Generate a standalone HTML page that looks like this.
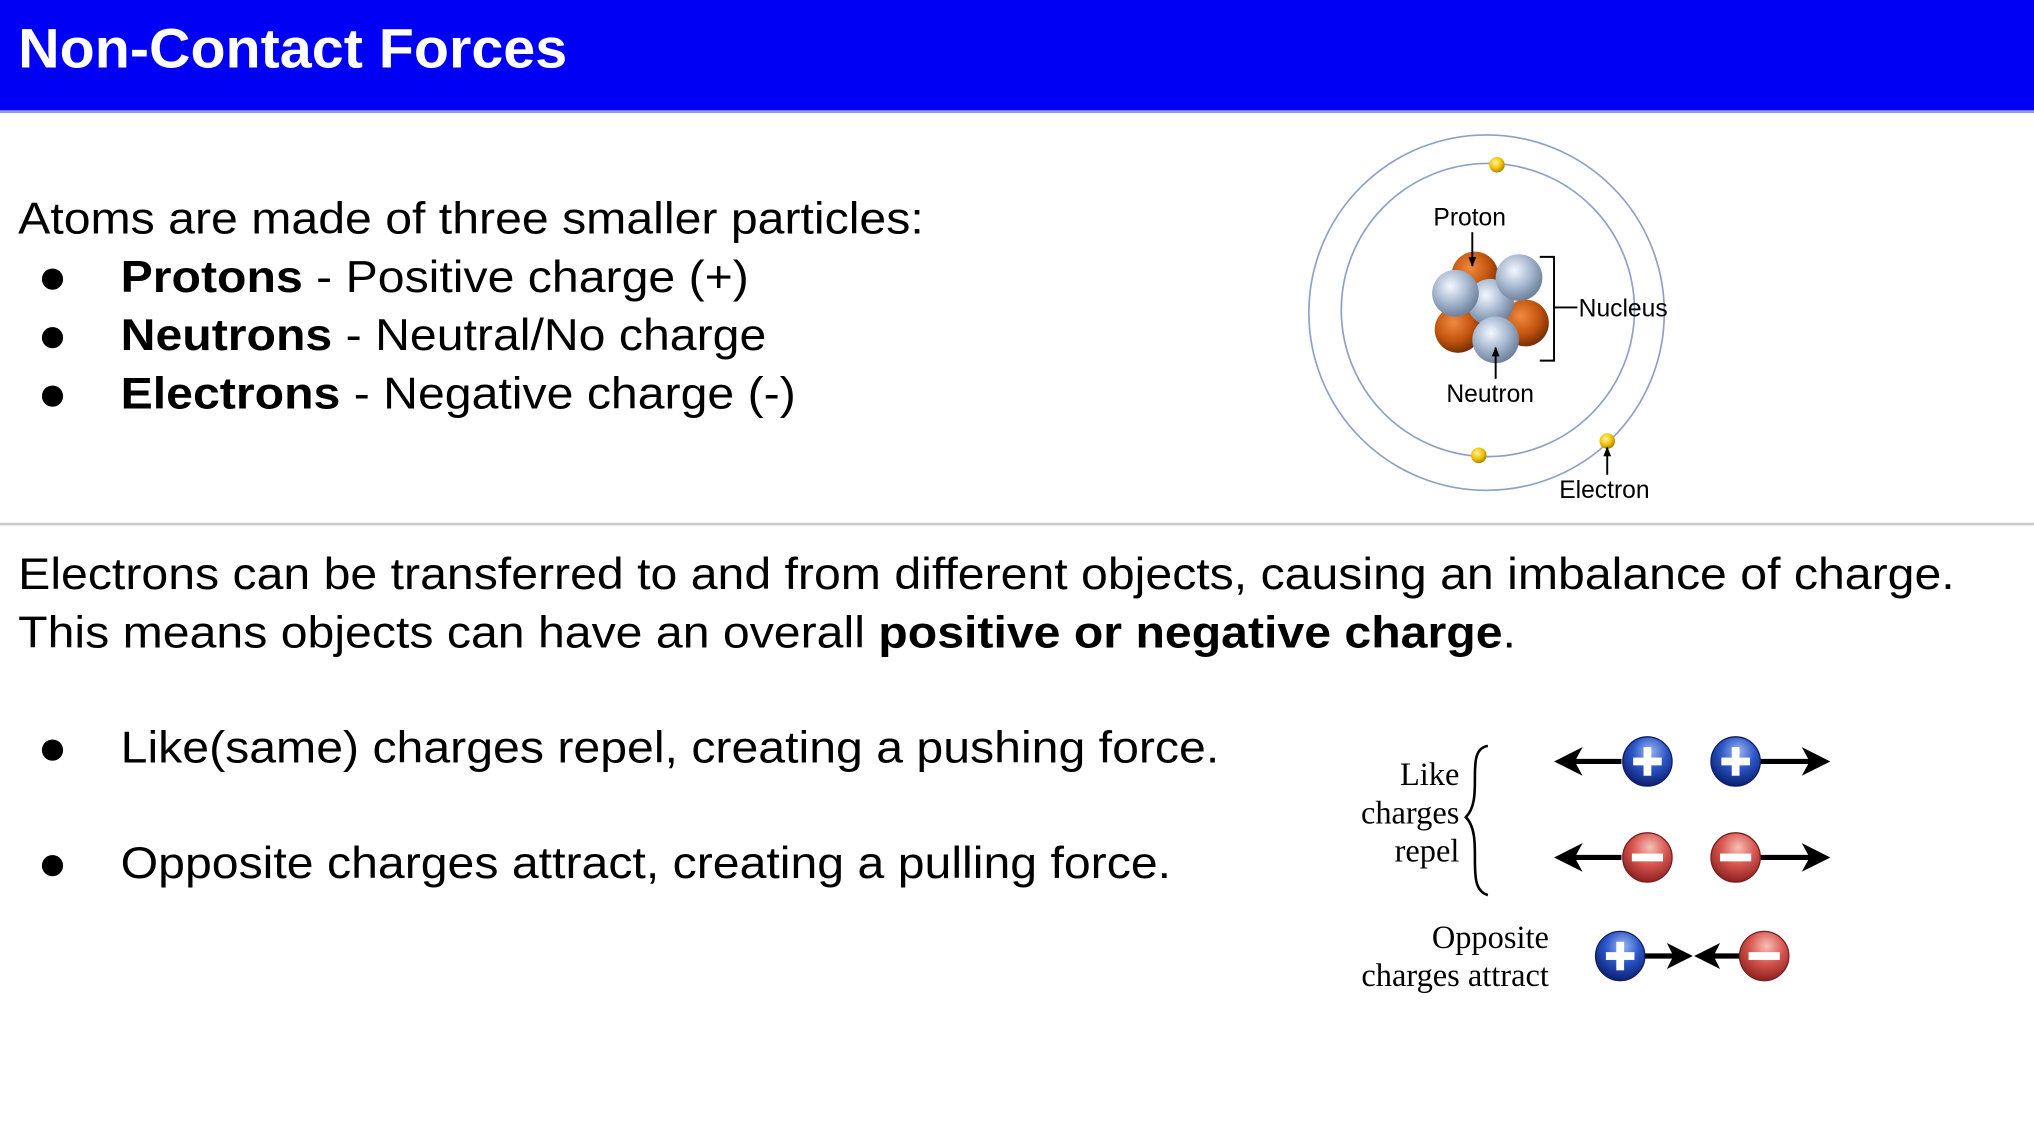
<!DOCTYPE html>
<html><head><meta charset="utf-8"><style>
html,body{margin:0;padding:0;background:#fff;width:2034px;height:1142px;overflow:hidden}
#c{position:absolute;left:0;top:0;width:1568px;height:881px;transform:scale(1.29719);transform-origin:0 0;font-family:"Liberation Sans",Arial,sans-serif;color:#000}
.hd{position:absolute;left:0;top:0;width:1568px;height:85px;background:#0000f5;border-bottom:2px solid #9aa0e8}
.hd span{position:absolute;left:14px;top:14px;font-size:43px;font-weight:bold;color:#fff;transform:scaleX(1.03);transform-origin:0 0}
.t{position:absolute;font-size:34px;white-space:nowrap;line-height:1;transform:scaleX(1.093);transform-origin:0 0}
.b{position:absolute;font-size:38px;left:29px;line-height:1}
</style></head><body><div id="c">
<div class="hd"><span>Non-Contact Forces</span></div>
<div class="t" style="left:14px;top:152px">Atoms are made of three smaller particles:</div>
<div class="b" style="top:195px">●</div><div class="t" style="left:93px;top:197px"><b>Protons</b> - Positive charge (+)</div>
<div class="b" style="top:240px">●</div><div class="t" style="left:93px;top:242px"><b>Neutrons</b> - Neutral/No charge</div>
<div class="b" style="top:285px">●</div><div class="t" style="left:93px;top:287px"><b>Electrons</b> - Negative charge (-)</div>
<div style="position:absolute;left:0;top:403px;width:1568px;height:2px;background:#c8c8c8"></div>
<div class="t" style="left:14px;top:426px">Electrons can be transferred to and from different objects, causing an imbalance of charge.</div>
<div class="t" style="left:14px;top:471px">This means objects can have an overall <b>positive or negative charge</b>.</div>
<div class="b" style="top:558px">●</div><div class="t" style="left:93px;top:560px">Like(same) charges repel, creating a pushing force.</div>
<div class="b" style="top:647px">●</div><div class="t" style="left:93px;top:649px">Opposite charges attract, creating a pulling force.</div>
<svg style="position:absolute;left:0;top:0" width="1568" height="881">
<defs>
<radialGradient id="bl" cx="0.4" cy="0.35" r="0.65"><stop offset="0" stop-color="#f4f8ff"/><stop offset="0.5" stop-color="#aebfd6"/><stop offset="1" stop-color="#6f819c"/></radialGradient>
<radialGradient id="or" cx="0.4" cy="0.35" r="0.65"><stop offset="0" stop-color="#f08a40"/><stop offset="0.6" stop-color="#c4560f"/><stop offset="1" stop-color="#7a3006"/></radialGradient>
<radialGradient id="ye" cx="0.4" cy="0.35" r="0.65"><stop offset="0" stop-color="#fff4a0"/><stop offset="0.6" stop-color="#f2c200"/><stop offset="1" stop-color="#b08400"/></radialGradient>
<radialGradient id="pb" cx="0.55" cy="0.3" r="0.7"><stop offset="0" stop-color="#9fb8f0"/><stop offset="0.5" stop-color="#2a55c8"/><stop offset="1" stop-color="#0c1f70"/></radialGradient>
<radialGradient id="pr" cx="0.55" cy="0.3" r="0.7"><stop offset="0" stop-color="#f6c0b8"/><stop offset="0.5" stop-color="#d8564f"/><stop offset="1" stop-color="#8c2220"/></radialGradient>
<marker id="ah" viewBox="0 0 10 10" refX="9" refY="5" markerWidth="5" markerHeight="5" orient="auto"><path d="M0,1 L10,5 L0,9 z" fill="#000"/></marker>
</defs>
<g fill="none" stroke="#8fa0c8" stroke-width="1.3">
<circle cx="1146" cy="241" r="137"/><circle cx="1147" cy="239" r="113"/></g>
<circle cx="1154" cy="127" r="6" fill="url(#ye)"/><circle cx="1140" cy="351" r="6" fill="url(#ye)"/><circle cx="1239" cy="340" r="6" fill="url(#ye)"/>
<circle cx="1137" cy="212" r="18" fill="url(#or)"/>
<circle cx="1176" cy="249" r="18" fill="url(#or)"/>
<circle cx="1124" cy="254" r="18" fill="url(#or)"/>
<circle cx="1149" cy="233" r="18" fill="url(#bl)"/>
<circle cx="1171" cy="214" r="18" fill="url(#bl)"/>
<circle cx="1122" cy="226" r="18" fill="url(#bl)"/>
<circle cx="1153" cy="262" r="18" fill="url(#bl)"/>
<g stroke="#000" stroke-width="1.5" fill="none">
<path d="M1187,198 H1198 V278 H1187 M1198,237 H1216"/>
<line x1="1135" y1="179" x2="1135" y2="205" marker-end="url(#ah)"/>
<line x1="1153" y1="292" x2="1153" y2="268" marker-end="url(#ah)"/>
<line x1="1239" y1="366" x2="1239" y2="345" marker-end="url(#ah)"/>
</g>
<g font-family="Liberation Sans,sans-serif" font-size="19" fill="#000">
<text x="1105" y="174">Proton</text><text x="1217" y="244">Nucleus</text>
<text x="1115" y="310">Neutron</text><text x="1202" y="384">Electron</text></g>
<g font-family="Liberation Serif,serif" font-size="25" fill="#000" text-anchor="end">
<text x="1125" y="605">Like</text><text x="1125" y="635">charges</text><text x="1125" y="664">repel</text>
<text x="1194" y="731">Opposite</text><text x="1194" y="760">charges attract</text></g>
<path d="M1147,575 C1128,578 1145,615 1130,630 C1145,645 1128,685 1147,690" fill="none" stroke="#000" stroke-width="2"/>
<g stroke="#000" stroke-width="4">
<line x1="1250" y1="587" x2="1212" y2="587"/><line x1="1357" y1="587" x2="1398" y2="587"/>
<line x1="1250" y1="661" x2="1212" y2="661"/><line x1="1357" y1="661" x2="1398" y2="661"/>
<line x1="1268" y1="737" x2="1292" y2="737"/><line x1="1341" y1="737" x2="1318" y2="737"/></g>
<g fill="#000">
<path d="M1198,587 L1220,576 L1214,587 L1220,598 z"/><path d="M1411,587 L1389,576 L1395,587 L1389,598 z"/>
<path d="M1198,661 L1220,650 L1214,661 L1220,672 z"/><path d="M1411,661 L1389,650 L1395,661 L1389,672 z"/>
<path d="M1305,737 L1285,727 L1290,737 L1285,747 z"/><path d="M1306,737 L1326,727 L1321,737 L1326,747 z"/></g>
<circle cx="1270" cy="587" r="19" fill="url(#pb)" stroke="#102060"/><circle cx="1338" cy="587" r="19" fill="url(#pb)" stroke="#102060"/>
<circle cx="1270" cy="661" r="19" fill="url(#pr)" stroke="#7a2020"/><circle cx="1338" cy="661" r="19" fill="url(#pr)" stroke="#7a2020"/>
<circle cx="1249" cy="737" r="19" fill="url(#pb)" stroke="#102060"/><circle cx="1360" cy="737" r="19" fill="url(#pr)" stroke="#7a2020"/>
<g fill="#fff">
<rect x="1259" y="584" width="22" height="6"/><rect x="1267" y="576" width="6" height="22"/>
<rect x="1327" y="584" width="22" height="6"/><rect x="1335" y="576" width="6" height="22"/>
<rect x="1238" y="734" width="22" height="6"/><rect x="1246" y="726" width="6" height="22"/>
<rect x="1258" y="658" width="24" height="6"/><rect x="1326" y="658" width="24" height="6"/><rect x="1348" y="734" width="24" height="6"/></g>
</svg>
</div></body></html>
